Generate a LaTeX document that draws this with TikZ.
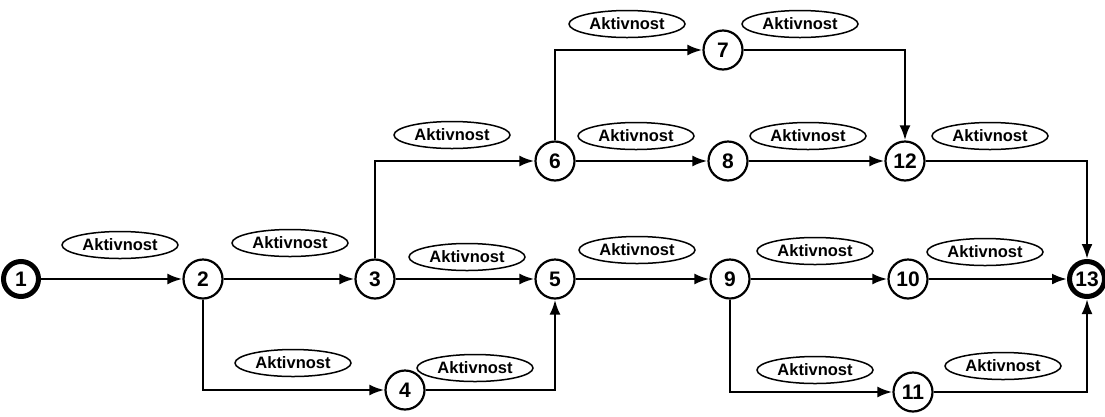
\documentclass[tikz,border=0pt]{standalone}
\usepackage{fontspec}
\setmainfont{Liberation Sans}
\usetikzlibrary{arrows.meta, shapes.geometric}

\tikzset{
  event/.style={circle, draw, line width=2.2pt, minimum size=39pt, inner sep=0pt,
    font=\fontsize{21}{21}\selectfont\bfseries},
  endevent/.style={event, line width=5pt, minimum size=35pt},
  activity/.style={ellipse, draw, line width=1.5pt, minimum width=116pt, minimum height=27pt,
    inner sep=0pt, font=\fontsize{16.5}{16.5}\selectfont\bfseries},
  link/.style={line width=2.6pt, -{Latex[length=15pt,width=11pt]}}
}

\begin{document}
\begin{tikzpicture}[x=1pt, y=-1pt]
      \useasboundingbox (0,0) rectangle (1105,416);

      % events
      \node[endevent] (n1) at (21,279) {1};
      \node[event] (n2) at (203,279) {2};
      \node[event] (n3) at (375,279) {3};
      \node[event] (n4) at (405,390) {4};
      \node[event] (n5) at (555,279) {5};
      \node[event] (n6) at (555,161) {6};
      \node[event] (n7) at (723,50) {7};
      \node[event] (n8) at (728,161) {8};
      \node[event] (n9) at (730,279) {9};
      \node[event] (n10) at (908,279) {10};
      \node[event] (n11) at (913,392) {11};
      \node[event] (n12) at (905,161) {12};
      \node[endevent] (n13) at (1087,279) {13};

      % activities
      \node[activity] (a1) at (120,245) {Aktivnost};
      \node[activity] (a2) at (290,243) {Aktivnost};
      \node[activity] (a3) at (452,135) {Aktivnost};
      \node[activity] (a4) at (467,257) {Aktivnost};
      \node[activity] (a5) at (293,363) {Aktivnost};
      \node[activity] (a6) at (475,368) {Aktivnost};
      \node[activity] (a7) at (627,24) {Aktivnost};
      \node[activity] (a8) at (636,136) {Aktivnost};
      \node[activity] (a9) at (800,24) {Aktivnost};
      \node[activity] (a10) at (808,136) {Aktivnost};
      \node[activity] (a11) at (990,136) {Aktivnost};
      \node[activity] (a12) at (637,250) {Aktivnost};
      \node[activity] (a13) at (815,251) {Aktivnost};
      \node[activity] (a14) at (985,252) {Aktivnost};
      \node[activity] (a15) at (815,370) {Aktivnost};
      \node[activity] (a16) at (1003,366) {Aktivnost};

      % links
      \draw[link] (n1) -- (n2);
      \draw[link] (n2) -- (n3);
      \draw[link] (n2) |- (n4);
      \draw[link] (n3) -- (n5);
      \draw[link] (n3) |- (n6);
      \draw[link] (n4) -| (n5);
      \draw[link] (n5) -- (n9);
      \draw[link] (n6) |- (n7);
      \draw[link] (n6) -- (n8);
      \draw[link] (n7) -| (n12);
      \draw[link] (n8) -- (n12);
      \draw[link] (n12) -| (n13);
      \draw[link] (n9) -- (n10);
      \draw[link] (n9) |- (n11);
      \draw[link] (n10) -- (n13);
      \draw[link] (n11) -| (n13);

\end{tikzpicture}
\end{document}
